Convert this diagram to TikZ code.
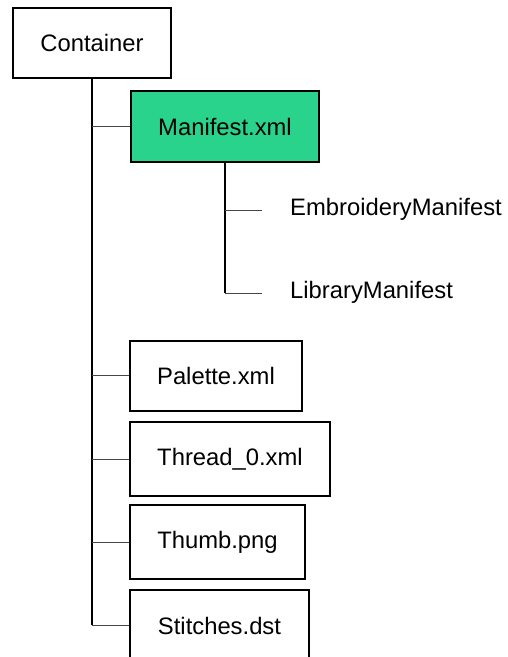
\documentclass[tikz,border=0pt]{standalone}
\usepackage{fontspec}
\setmainfont{Liberation Sans}
\definecolor{mgreen}{RGB}{41,211,140}
\definecolor{cgray}{RGB}{70,70,70}
\begin{document}
\begin{tikzpicture}[x=1pt,y=-1pt,
  box/.style={draw=black,line width=2pt,inner sep=0pt,align=center,font=\fontsize{23.8}{28}\selectfont},
  lbl/.style={inner sep=0pt,anchor=base west,font=\fontsize{23.8}{28}\selectfont},
  trunk/.style={draw=black,line width=1.6pt},
  branch/.style={draw=cgray,line width=1pt}]
\useasboundingbox (0,0) rectangle (507,657);
\node[box,minimum width=158pt,minimum height=70pt] (container) at (92,43) {Container};
\node[box,fill=mgreen,minimum width=188pt,minimum height=71pt] (manifest) at (225,126.5) {Manifest.xml};
\node[box,minimum width=172pt,minimum height=70pt] (palette) at (216,375.7) {Palette.xml};
\node[box,minimum width=200pt,minimum height=73.7pt] (thread) at (230,459) {Thread\_0.xml};
\node[box,minimum width=175pt,minimum height=74pt] (thumb) at (217.5,542) {Thumb.png};
\node[box,minimum width=179pt,minimum height=72pt] (stitches) at (219.5,626) {Stitches.dst};
\node[lbl] (emb) at (290,215) {EmbroideryManifest};
\node[lbl] (lib) at (290,298.3) {LibraryManifest};
% trunk coordinates
\coordinate (tend) at (92,625);
\coordinate (mend) at (225,293);
\coordinate (e1) at (262,210);
\coordinate (e2) at (262,293);
\draw[trunk] (container.south) -- (tend);
\draw[trunk] (manifest.south) -- (mend);
\draw[branch] (container.south |- manifest.west) -- (manifest.west);
\draw[branch] (container.south |- palette.west) -- (palette.west);
\draw[branch] (container.south |- thread.west) -- (thread.west);
\draw[branch] (container.south |- thumb.west) -- (thumb.west);
\draw[branch] (tend) -- (tend -| stitches.west);
\draw[branch] (manifest.south |- e1) -- (e1);
\draw[branch] (mend) -- (e2);
\end{tikzpicture}
\end{document}
